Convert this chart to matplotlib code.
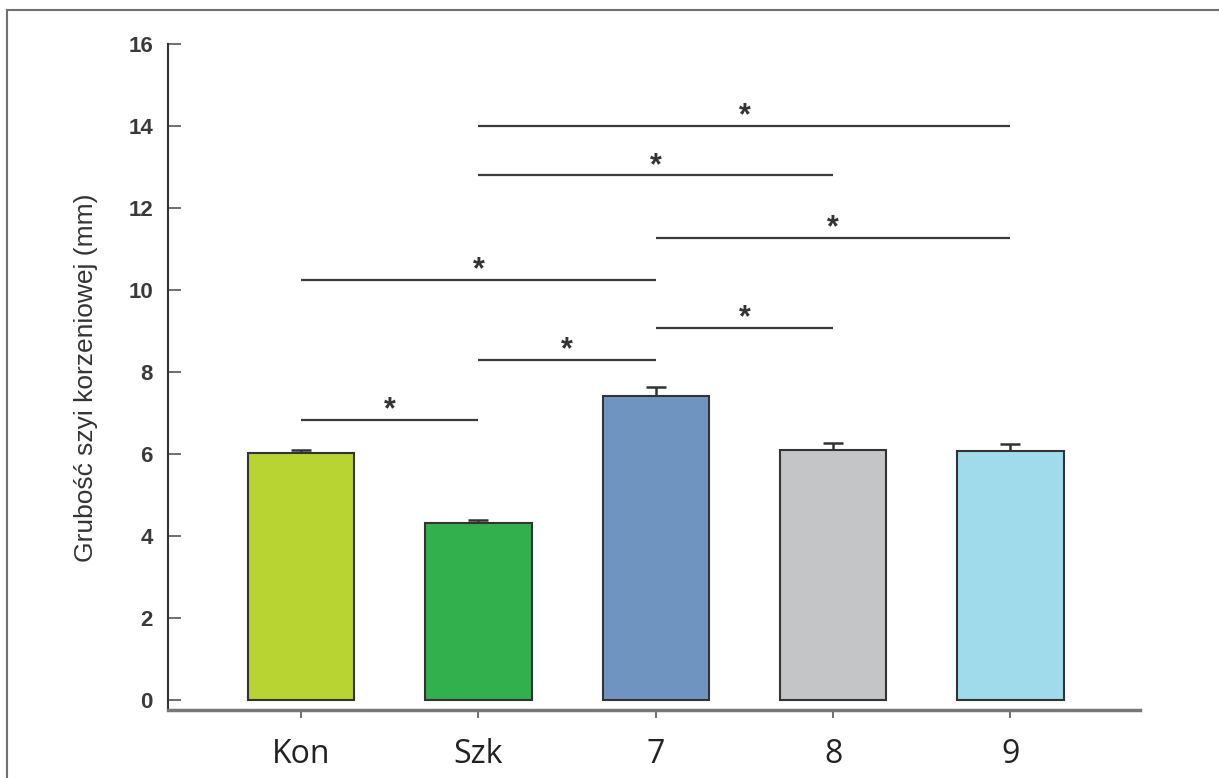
import numpy as np
import matplotlib.pyplot as plt
from matplotlib.lines import Line2D

# group means and upper error (SE)
groups = ['Kon', 'Szk', '7', '8', '9']
means = [6.02, 4.32, 7.41, 6.10, 6.07]
errors = [0.07, 0.07, 0.24, 0.17, 0.17]
colors = ['#b8d432', '#32b04d', '#7094c0', '#c3c5c7', '#9fdbeb']

# significant pairs: (first group, second group, bracket height)
sig_pairs = [(0, 1, 6.83), (1, 2, 8.29), (0, 2, 10.24), (2, 3, 9.07),
             (2, 4, 11.27), (1, 3, 12.80), (1, 4, 14.00)]

yticks = [0, 2, 4, 6, 8, 10, 12, 14, 16]

fig = plt.figure(figsize=(12.19, 7.78), dpi=100)
ax = fig.add_axes([0.138, 0.087, 0.797, 0.856])

x = np.arange(len(groups))
ax.bar(x, means, width=0.6, color=colors, edgecolor='#333333', linewidth=1.5, zorder=2)
ax.errorbar(x, means, yerr=[np.zeros(len(errors)), errors], fmt='none',
            ecolor='#333333', elinewidth=1.8, capsize=7, capthick=1.8, zorder=1)

for a, b, h in sig_pairs:
    ax.plot([a, b], [h, h], color='#3a3a3a', lw=1.6, solid_capstyle='butt')
    ax.annotate('*', xy=((a + b) / 2, h), xytext=(0, 7), textcoords='offset points',
                ha='center', va='center', fontsize=22, fontweight='bold',
                color='#333333', family='Liberation Sans')

ax.set_xlim(-0.75, 4.73)
ax.set_ylim(-0.25, 16)
ax.set_yticks(yticks)
ax.set_xticks(x)
ax.set_xticklabels(groups, family='Open Sans', fontsize=23, color='#222222')
ax.set_yticklabels([str(t) for t in yticks], family='Liberation Sans',
                   fontsize=16, fontweight='bold', color='#3a3a3a')

ax.tick_params(axis='y', direction='in', length=9, width=1.2, color='#555555', pad=11)
ax.tick_params(axis='x', direction='out', length=6, width=1.2, color='#555555', pad=14)

ax.spines['top'].set_visible(False)
ax.spines['right'].set_visible(False)
ax.spines['left'].set_color('#333333')
ax.spines['left'].set_linewidth(1.5)
ax.spines['left'].set_bounds(-0.25, 16)
ax.spines['bottom'].set_color('#777777')
ax.spines['bottom'].set_linewidth(2.5)

ax.set_ylabel('Grubość szyi korzeniowej (mm)', family='Liberation Sans',
              fontsize=19, color='#333333', labelpad=22)

# thin frame on the left and top edges
fig.add_artist(Line2D([0.006, 0.006], [0, 0.987], color='#707070', lw=1.5))
fig.add_artist(Line2D([0.006, 1], [0.987, 0.987], color='#707070', lw=1.5))

fig.savefig('out.png', dpi=100)
